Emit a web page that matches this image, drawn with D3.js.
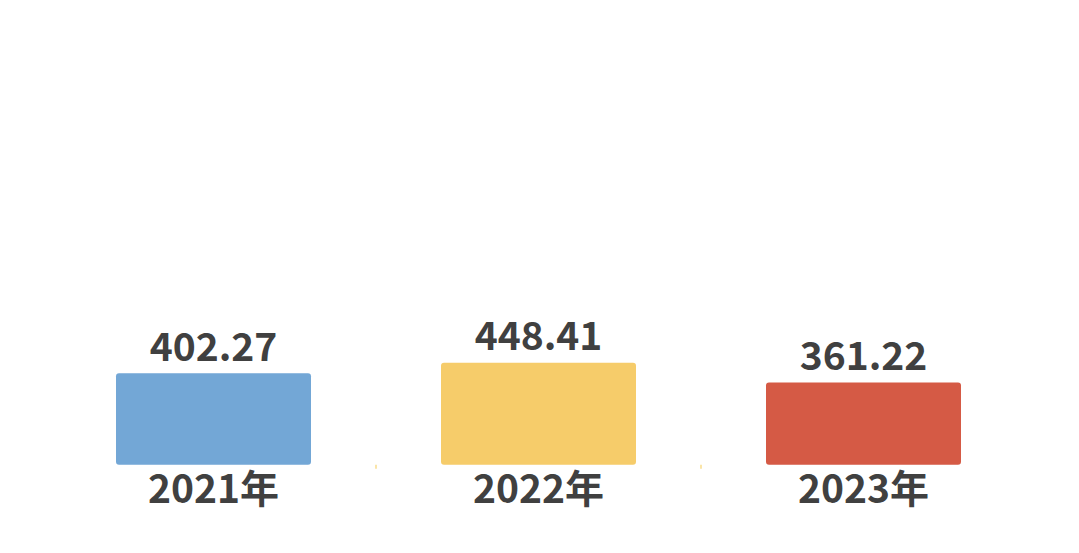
<!DOCTYPE html>
<html><head><meta charset="utf-8">
<script src="https://cdn.jsdelivr.net/npm/d3@7"></script>
<style>html,body{margin:0;padding:0;background:#fff;}svg{display:block;}</style>
</head><body>
<svg id="c" width="1079" height="553"></svg>
<script>
const categories = ["2021年", "2022年", "2023年"];
const values = [402.27, 448.41, 361.22];
const colors = ["#73A7D6", "#F6CC6A", "#D55A45"];

const svg = d3.select("#c");
const x = d3.scaleBand().domain(categories).range([51, 1026]).paddingInner(0.4).paddingOuter(0.2);
const y = d3.scaleLinear().domain([0, 2000]).range([464.7, 9.7]);
const font = "'Noto Sans CJK SC','Noto Sans',sans-serif";

// inner ticks between categories
const step = x.step();
const boundaries = categories.slice(1).map(c => x(c) - step * x.paddingInner() / 2);
svg.selectAll("line.tick").data(boundaries).enter().append("line")
  .attr("x1", d => d).attr("x2", d => d)
  .attr("y1", y(0)).attr("y2", y(0) + 4)
  .attr("stroke", "#F9DC8C").attr("stroke-width", 1.5);

svg.selectAll("rect.bar").data(values).enter().append("rect")
  .attr("x", (d, i) => x(categories[i]))
  .attr("y", d => y(d))
  .attr("width", x.bandwidth())
  .attr("height", d => y(0) - y(d))
  .attr("rx", 3).attr("ry", 3)
  .attr("fill", (d, i) => colors[i]);

svg.selectAll("text.val").data(values).enter().append("text")
  .attr("x", (d, i) => x(categories[i]) + x.bandwidth() / 2)
  .attr("y", d => y(d) - 12.5)
  .attr("text-anchor", "middle")
  .attr("font-family", font).attr("font-weight", "bold").attr("font-size", 39)
  .attr("fill", "#404040")
  .text(d => d.toFixed(2));

svg.selectAll("text.cat").data(categories).enter().append("text")
  .attr("x", d => x(d) + x.bandwidth() / 2)
  .attr("y", 503)
  .attr("text-anchor", "middle")
  .attr("font-family", font).attr("font-weight", "bold").attr("font-size", 39)
  .attr("fill", "#404040")
  .text(d => d);
</script>
</body></html>
